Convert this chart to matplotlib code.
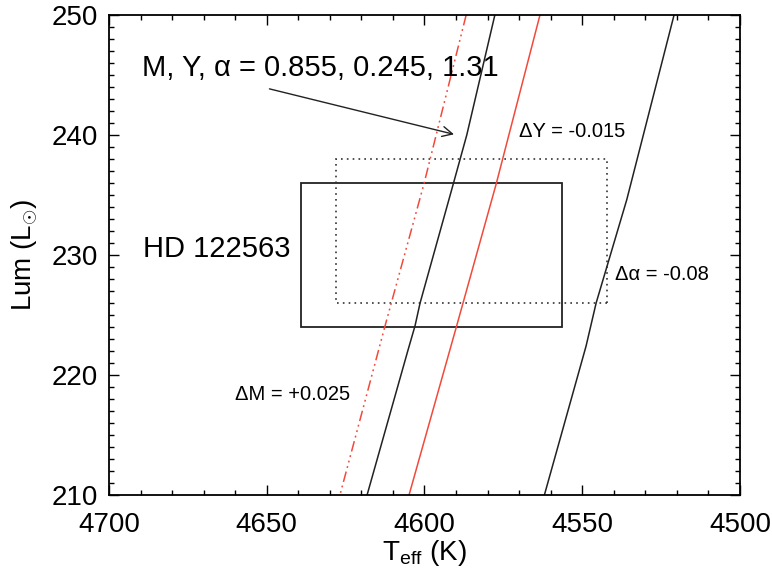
import numpy as np
import matplotlib
matplotlib.use("Agg")
import matplotlib.pyplot as plt
from matplotlib.patches import Rectangle
from matplotlib.ticker import MultipleLocator

plt.rcParams['font.family'] = ['Liberation Sans', 'DejaVu Sans']
plt.rcParams['mathtext.fontset'] = 'custom'
plt.rcParams['mathtext.rm'] = 'Liberation Sans'
plt.rcParams['mathtext.it'] = 'Liberation Sans:italic'

# tracks (Teff in K, luminosity in Lsun)
base_teff = [4577.7, 4586.6, 4590.9, 4601.4, 4603.0, 4605.2, 4618.2]
base_lum = [250, 240, 235.9, 226, 224.1, 222.1, 210]

dy_teff = [4563.4, 4577.3, 4589.8, 4604.9]
dy_lum = [250, 235.9, 224.1, 210]

dm_teff = [4586.8, 4600.2, 4612.5, 4626.8]
dm_lum = [250, 235.9, 224.1, 210]

da_teff = [4520.9, 4535.9, 4545.6, 4548.8, 4562.0]
da_lum = [250, 234.6, 226, 222.4, 210]

# error boxes
box_teff = [4639.0, 4556.5]
box_lum = [224.0, 236.0]
dbox_teff = [4628.0, 4542.0]
dbox_lum = [226.0, 238.0]

red = '#f04a3c'

fig = plt.figure(figsize=(7.72, 5.70), dpi=100)
ax = fig.add_axes([109/772, 1-495/570, 631/772, 480/570])

ax.plot(base_teff, base_lum, color='#222222', lw=1.1)
ax.plot(dy_teff, dy_lum, color=red, lw=1.1)
ax.plot(dm_teff, dm_lum, color=red, lw=1.1, dashes=(7, 2.5, 1.2, 2.5, 1.2, 2.5, 1.2, 2.5))
ax.plot(da_teff, da_lum, color='#222222', lw=1.1)

ax.add_patch(Rectangle((box_teff[1], box_lum[0]), box_teff[0]-box_teff[1],
                       box_lum[1]-box_lum[0], fill=False, ec='#222222', lw=1.3))
ax.add_patch(Rectangle((dbox_teff[1], dbox_lum[0]), dbox_teff[0]-dbox_teff[1],
                       dbox_lum[1]-dbox_lum[0], fill=False, ec='#333333', lw=1.2,
                       ls=(0, (1, 2.5))))

ax.text(4689.6, 244.9, u'M, Y, \u03b1 = 0.855, 0.245, 1.31', fontsize=21,
        ha='left', va='baseline')
ax.annotate('', xy=(4589.8, 240.0), xytext=(4650.0, 243.9),
            arrowprops=dict(arrowstyle='->', color='#222222', lw=1.0,
                            mutation_scale=18))
ax.text(4689.3, 229.86, 'HD 122563', fontsize=21, ha='left', va='baseline')
ax.text(4570.0, 239.86, u'\u0394Y = -0.015', fontsize=14.5, ha='left', va='baseline')
ax.text(4539.6, 227.9, u'\u0394\u03b1 = -0.08', fontsize=14.5, ha='left', va='baseline')
ax.text(4660.1, 217.9, u'\u0394M = +0.025', fontsize=14.5, ha='left', va='baseline')

ax.set_xlim(4700, 4500)
ax.set_ylim(210, 250)
ax.xaxis.set_major_locator(MultipleLocator(50))
ax.xaxis.set_minor_locator(MultipleLocator(10))
ax.yaxis.set_major_locator(MultipleLocator(10))
ax.yaxis.set_minor_locator(MultipleLocator(1))
ax.tick_params(which='both', direction='in', top=True, right=True, width=1.0)
ax.tick_params(which='major', length=7, labelsize=20)
ax.tick_params(which='minor', length=3.5)
ax.tick_params(axis='x', pad=12)
ax.tick_params(axis='y', pad=8)
for s in ax.spines.values():
    s.set_linewidth(1.3)

ax.set_xlabel(r'T$_{\rm eff}$ (K)', fontsize=20)
ax.xaxis.set_label_coords(0.5, -0.09)
ax.xaxis.label.set_va('top')
ax.set_ylabel(r'Lum (L$_{\odot}$)', fontsize=20)
ax.yaxis.set_label_coords(-0.11, 0.5)

fig.savefig('out.png', dpi=100)
